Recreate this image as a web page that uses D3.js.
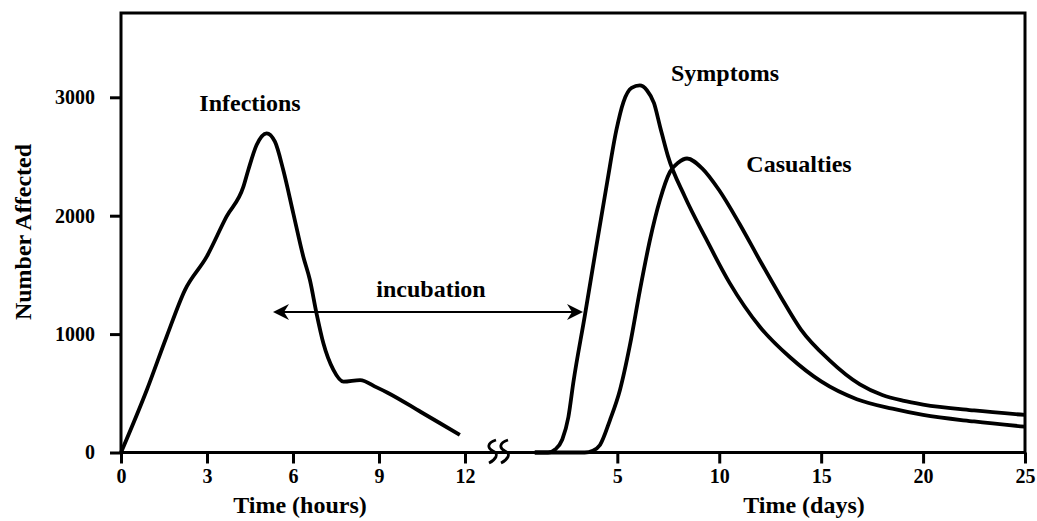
<!DOCTYPE html>
<html>
<head>
<meta charset="utf-8">
<script src="https://cdn.jsdelivr.net/npm/d3@7"></script>
<style>
  html, body { margin: 0; padding: 0; background: #fff; }
  svg { display: block; }
  text { font-family: "Liberation Serif", "Times New Roman", serif; font-weight: bold; fill: #000; }
</style>
</head>
<body>
<svg id="chart" width="1037" height="521"></svg>
<script>
// ---- data ----
const yTicks = [0, 1000, 2000, 3000];
const hourTicks = [0, 3, 6, 9, 12];
const dayTicks = [5, 10, 15, 20, 25];

const infHours  = [0, 0.9, 1.59, 2.23, 2.99, 3.68, 4.27, 4.44, 4.73, 5.08, 5.37, 5.66, 6.01, 6.36, 6.59, 6.82, 7.06, 7.41, 7.76, 8.34, 8.92, 9.3, 10.46, 11.13, 11.82];
const infValues = [0, 528, 978, 1372, 1654, 1992, 2245, 2386, 2597, 2696, 2625, 2386, 2020, 1654, 1457, 1176, 922, 697, 598, 612, 550, 505, 342, 247, 148];

const symDays   = [0.95, 1.6, 1.95, 2.3, 2.6, 2.85, 3.4, 3.95, 4.5, 4.95, 5.3, 5.7, 6.1, 6.45, 6.8, 7.1, 7.48, 8.32, 9.33, 10.5, 12.0, 13.5, 15.0, 16.75, 18.5, 20, 22.5, 25];
const symValues = [0, 0, 25, 110, 300, 600, 1150, 1720, 2280, 2720, 2960, 3080, 3100, 3060, 2950, 2750, 2505, 2158, 1812, 1435, 1060, 800, 600, 450, 370, 317, 262, 218];

const casDays   = [0.95, 3.4, 3.8, 4.15, 4.64, 5.13, 5.62, 6.11, 6.6, 7.09, 7.58, 8.0, 8.42, 9.16, 9.99, 11.0, 12.0, 13.0, 14.0, 15.4, 16.9, 18.0, 19.0, 20, 22.5, 25];
const casValues = [0, 0, 15, 63, 274, 528, 908, 1372, 1795, 2133, 2369, 2450, 2483, 2400, 2217, 1930, 1620, 1320, 1040, 780, 575, 485, 438, 405, 355, 317];

const labels = [
  { text: "Infections", x: 250, y: 111 },
  { text: "Symptoms",   x: 725, y: 81 },
  { text: "Casualties", x: 799, y: 172 },
  { text: "incubation", x: 431, y: 297 }
];

// ---- layout ----
const svg = d3.select("#chart");
const L = 121, R = 1025, T = 13, B = 452.5;
const hourRight = 465, dayZero = 515.4;

const y = d3.scaleLinear().domain([0, 3712]).range([B, T]);
const xh = d3.scaleLinear().domain([0, 12]).range([L, hourRight]);
const xd = d3.scaleLinear().domain([0, 25]).range([dayZero, R]);

// frame
svg.append("rect").attr("x", L).attr("y", T).attr("width", R - L).attr("height", B - T)
  .attr("fill", "none").attr("stroke", "#000").attr("stroke-width", 3);

// axes
function styleAxis(g) {
  g.select(".domain").remove();
  g.selectAll(".tick line").attr("stroke", "#000").attr("stroke-width", 3);
  g.selectAll(".tick text").style("font-size", "20px").style("font-family", "'Liberation Serif', serif").style("font-weight", "bold");
}
svg.append("g").attr("transform", `translate(${L},0)`)
  .call(d3.axisLeft(y).tickValues(yTicks).tickSize(11).tickPadding(15).tickFormat(d3.format("d")))
  .call(styleAxis);
svg.append("g").attr("transform", `translate(0,${B})`)
  .call(d3.axisBottom(xh).tickValues(hourTicks).tickSize(11).tickPadding(5).tickFormat(d3.format("d")))
  .call(styleAxis);
svg.append("g").attr("transform", `translate(0,${B})`)
  .call(d3.axisBottom(xd).tickValues(dayTicks).tickSize(11).tickPadding(5).tickFormat(d3.format("d")))
  .call(styleAxis);

// axis break squiggles
[490, 502].forEach(bx => {
  svg.append("path")
    .attr("d", `M${bx + 6},440 C${bx - 3},443 ${bx - 3},448 ${bx + 3},451 C${bx + 10},454 ${bx + 5},460 ${bx - 1},463`)
    .attr("fill", "none").attr("stroke", "#000").attr("stroke-width", 2.8);
});

// curves
const lineH = d3.line().x(d => xh(d[0])).y(d => y(d[1])).curve(d3.curveMonotoneX);
const lineD = d3.line().x(d => xd(d[0])).y(d => y(d[1])).curve(d3.curveMonotoneX);
svg.append("path").datum(d3.zip(infHours, infValues)).attr("d", lineH)
  .attr("fill", "none").attr("stroke", "#000").attr("stroke-width", 3.8).attr("stroke-linejoin", "round");
svg.append("path").datum(d3.zip(symDays, symValues)).attr("d", lineD)
  .attr("fill", "none").attr("stroke", "#000").attr("stroke-width", 3.8).attr("stroke-linejoin", "round");
svg.append("path").datum(d3.zip(casDays, casValues)).attr("d", lineD)
  .attr("fill", "none").attr("stroke", "#000").attr("stroke-width", 3.8).attr("stroke-linejoin", "round");

// incubation double arrow
const ay = 312, ax1 = 273, ax2 = 583;
svg.append("line").attr("x1", ax1 + 8).attr("x2", ax2 - 8).attr("y1", ay).attr("y2", ay)
  .attr("stroke", "#000").attr("stroke-width", 2.2);
svg.append("path").attr("d", `M${ax1},${ay} L${ax1 + 16},${ay - 8} L${ax1 + 11},${ay} L${ax1 + 16},${ay + 8} Z`).attr("fill", "#000");
svg.append("path").attr("d", `M${ax2},${ay} L${ax2 - 16},${ay - 8} L${ax2 - 11},${ay} L${ax2 - 16},${ay + 8} Z`).attr("fill", "#000");

// annotation labels
svg.selectAll("text.lab").data(labels).enter().append("text")
  .attr("class", "lab").attr("x", d => d.x).attr("y", d => d.y)
  .attr("text-anchor", "middle").style("font-size", "24px").text(d => d.text);

// axis titles
svg.append("text").attr("x", 300).attr("y", 513).attr("text-anchor", "middle").style("font-size", "24px").text("Time (hours)");
svg.append("text").attr("x", 804).attr("y", 513).attr("text-anchor", "middle").style("font-size", "24px").text("Time (days)");
svg.append("text").attr("transform", "translate(31,232) rotate(-90)").attr("text-anchor", "middle").style("font-size", "24px").text("Number Affected");
</script>
</body>
</html>
